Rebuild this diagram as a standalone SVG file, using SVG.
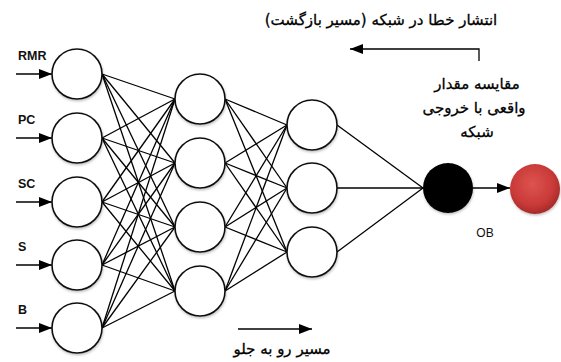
<svg xmlns="http://www.w3.org/2000/svg" width="561" height="362" viewBox="0 0 561 362">
<style>
.node{fill:#fff;stroke:#111;stroke-width:1.6;filter:url(#sh)}
.conn line,.conn polyline{stroke:#000;stroke-width:1.3;fill:none}
.lab{font-family:"Liberation Sans",Arial,sans-serif;font-weight:bold;font-size:12.5px;fill:#111}
.fa{font-family:"DejaVu Sans","Noto Sans",sans-serif;font-size:15px;fill:#000;stroke:#000;stroke-width:0.3;text-anchor:middle}
.ob{font-family:"Liberation Sans",Arial,sans-serif;font-size:12px;fill:#111;text-anchor:middle}
</style>
<defs>
<marker id="ah" markerUnits="userSpaceOnUse" markerWidth="13" markerHeight="10" refX="13" refY="5" orient="auto">
<path d="M0,0 L13,5 L0,10 z" fill="#000"/>
</marker>
<filter id="sh" x="-30%" y="-30%" width="160%" height="160%">
<feDropShadow dx="0.5" dy="1.5" stdDeviation="1.2" flood-color="#000" flood-opacity="0.25"/>
</filter>
<radialGradient id="red" cx="45%" cy="40%" r="60%">
<stop offset="0" stop-color="#dd5350"/>
<stop offset="0.7" stop-color="#c93a38"/>
<stop offset="1" stop-color="#a82a2a"/>
</radialGradient>
</defs>
<rect width="561" height="362" fill="#fff"/>
<g id="connectors" class="conn">
<line x1="102" y1="74" x2="175" y2="99"/><line x1="102" y1="74" x2="175" y2="163"/><line x1="102" y1="74" x2="175" y2="227"/><line x1="102" y1="74" x2="175" y2="291"/>
<line x1="102" y1="138" x2="175" y2="99"/><line x1="102" y1="138" x2="175" y2="163"/><line x1="102" y1="138" x2="175" y2="227"/><line x1="102" y1="138" x2="175" y2="291"/>
<line x1="102" y1="202" x2="175" y2="99"/><line x1="102" y1="202" x2="175" y2="163"/><line x1="102" y1="202" x2="175" y2="227"/><line x1="102" y1="202" x2="175" y2="291"/>
<line x1="102" y1="265" x2="175" y2="99"/><line x1="102" y1="265" x2="175" y2="163"/><line x1="102" y1="265" x2="175" y2="227"/><line x1="102" y1="265" x2="175" y2="291"/>
<line x1="102" y1="328" x2="175" y2="99"/><line x1="102" y1="328" x2="175" y2="163"/><line x1="102" y1="328" x2="175" y2="227"/><line x1="102" y1="328" x2="175" y2="291"/>
<line x1="225" y1="99" x2="287" y2="125"/><line x1="225" y1="99" x2="287" y2="188"/><line x1="225" y1="99" x2="287" y2="252"/>
<line x1="225" y1="163" x2="287" y2="125"/><line x1="225" y1="163" x2="287" y2="188"/><line x1="225" y1="163" x2="287" y2="252"/>
<line x1="225" y1="227" x2="287" y2="125"/><line x1="225" y1="227" x2="287" y2="188"/><line x1="225" y1="227" x2="287" y2="252"/>
<line x1="225" y1="291" x2="287" y2="125"/><line x1="225" y1="291" x2="287" y2="188"/><line x1="225" y1="291" x2="287" y2="252"/>
<line x1="337" y1="125" x2="423" y2="188"/><line x1="337" y1="188" x2="423" y2="188"/><line x1="337" y1="252" x2="423" y2="188"/>
<line x1="16" y1="74" x2="52" y2="74" marker-end="url(#ah)"/>
<line x1="16" y1="138" x2="52" y2="138" marker-end="url(#ah)"/>
<line x1="16" y1="202" x2="52" y2="202" marker-end="url(#ah)"/>
<line x1="16" y1="265" x2="52" y2="265" marker-end="url(#ah)"/>
<line x1="16" y1="328" x2="52" y2="328" marker-end="url(#ah)"/>
<line x1="473" y1="188" x2="510" y2="188" marker-end="url(#ah)"/>
<polyline points="479,61 479,49 350,49" marker-end="url(#ah)"/>
<line x1="238" y1="329" x2="312" y2="329" marker-end="url(#ah)"/>
</g>
<g id="in-RMR"><circle class="node" cx="77" cy="74" r="25"/><text class="lab" x="18" y="60">RMR</text></g>
<g id="in-PC"><circle class="node" cx="77" cy="138" r="25"/><text class="lab" x="18" y="124">PC</text></g>
<g id="in-SC"><circle class="node" cx="77" cy="202" r="25"/><text class="lab" x="18" y="188">SC</text></g>
<g id="in-S"><circle class="node" cx="77" cy="265" r="25"/><text class="lab" x="18" y="251">S</text></g>
<g id="in-B"><circle class="node" cx="77" cy="328" r="25"/><text class="lab" x="18" y="314">B</text></g>
<g id="h1-1"><circle class="node" cx="200" cy="99" r="25"/></g>
<g id="h1-2"><circle class="node" cx="200" cy="163" r="25"/></g>
<g id="h1-3"><circle class="node" cx="200" cy="227" r="25"/></g>
<g id="h1-4"><circle class="node" cx="200" cy="291" r="25"/></g>
<g id="h2-1"><circle class="node" cx="312" cy="125" r="25"/></g>
<g id="h2-2"><circle class="node" cx="312" cy="188" r="25"/></g>
<g id="h2-3"><circle class="node" cx="312" cy="252" r="25"/></g>
<g id="out"><circle cx="448" cy="188" r="25" fill="#000" filter="url(#sh)"/><text class="ob" x="485" y="237">OB</text></g>
<g id="target"><circle cx="535" cy="189" r="25" fill="url(#red)" filter="url(#sh)"/></g>
<g id="labels">
<text class="fa" x="381" y="25">انتشار خطا در شبکه (مسیر بازگشت)</text>
<text class="fa" x="477" y="89">مقایسه مقدار</text>
<text class="fa" x="474" y="113">واقعی با خروجی</text>
<text class="fa" x="477" y="137">شبکه</text>
<text class="fa" x="282" y="354">مسیر رو به جلو</text>
</g>
</svg>
